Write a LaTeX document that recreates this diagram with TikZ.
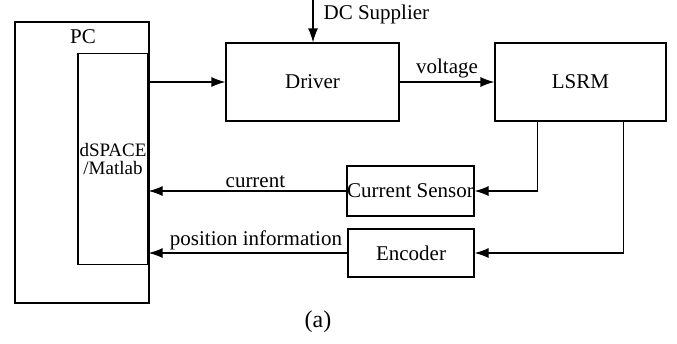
\documentclass[tikz,border=0pt]{standalone}
\usepackage{fontspec}
\setmainfont{Liberation Serif}
\usetikzlibrary{arrows.meta,calc}
\begin{document}
\begin{tikzpicture}[x=1pt,y=-1pt, line width=1.2pt,
    blockbox/.style={draw, line width=1.2pt, inner sep=0pt, font=\fontsize{21}{23}\selectfont},
    txt/.style={inner sep=1pt, font=\fontsize{21}{23}\selectfont},
    sig/.style={-{Latex[length=14pt,width=10pt]}}]
\useasboundingbox (0,0) rectangle (677,343);

% blocks
\node[blockbox, minimum width=134pt, minimum height=281pt] (pc) at (82,162.5) {};
\node[txt] (pclabel) at (83,37) {PC};
\node[blockbox, minimum width=70pt, minimum height=211pt, align=center, font=\fontsize{19}{20}\selectfont] (dspace) at (113,159) {dSPACE\\[-2pt]/Matlab};
\node[blockbox, minimum width=173pt, minimum height=78pt] (driver) at (312.5,82) {Driver};
\node[blockbox, minimum width=171pt, minimum height=78pt] (lsrm) at (580.5,82) {LSRM};
\node[blockbox, minimum width=127pt, minimum height=50pt] (sensor) at (410.5,191) {Current Sensor};
\node[blockbox, minimum width=126pt, minimum height=48pt] (encoder) at (411,253) {Encoder};

% supply
\coordinate (dc) at (313,0);
\node[txt, anchor=west] (dclabel) at (322,14) {DC Supplier};
\draw[sig] (dc) -- (driver.north -| dc);

% forward path
\draw[sig] (dspace.east |- driver.west) -- (driver.west);
\draw[sig] (driver.east) -- node[txt, above=2pt] (vlabel) {voltage} (lsrm.west);

% feedback
\draw[sig] ([xshift=43pt]lsrm.south west) |- (sensor.east);
\draw[sig] ([xshift=-43pt]lsrm.south east) |- (encoder.east);
\draw[sig] (sensor.west) -- node[txt, above=2pt, pos=0.46] (clabel) {current} (dspace.east |- sensor.west);
\draw[sig] (encoder.west) -- node[txt, above=1pt, pos=0.46] (plabel) {position information} (dspace.east |- encoder.west);

\node[txt, font=\fontsize{24}{26}\selectfont] (caption) at (318,322) {(a)};
\end{tikzpicture}
\end{document}
